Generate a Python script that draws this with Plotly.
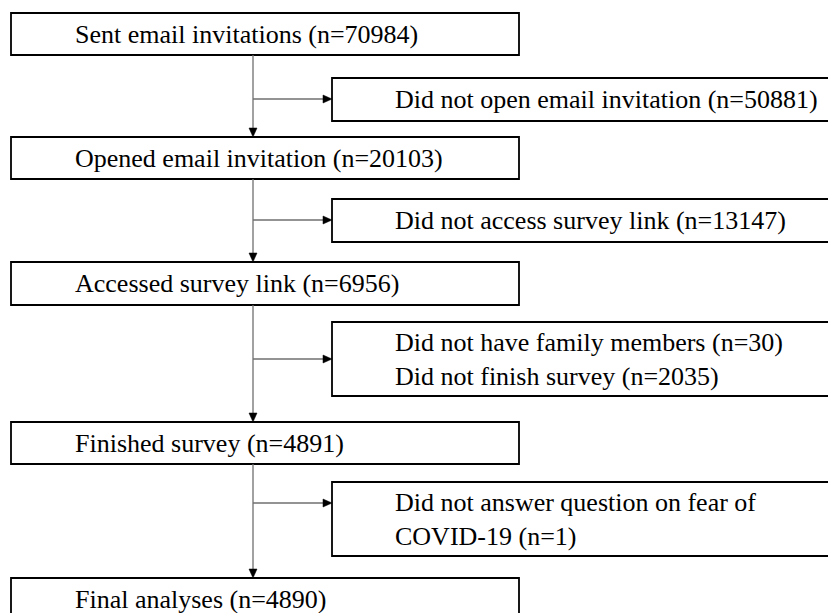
import textwrap
import plotly.graph_objects as go

# ---- data ----
main_labels = ["Sent email invitations", "Opened email invitation",
               "Accessed survey link", "Finished survey", "Final analyses"]
main_n = [70984, 20103, 6956, 4891, 4890]

excl_reasons = ["Did not open email invitation", "Did not access survey link",
                "Did not have family members", "Did not finish survey",
                "Did not answer question on fear of COVID-19"]
excl_n = [50881, 13147, 30, 2035, 1]
excl_step = [0, 1, 2, 2, 3]  # which step each exclusion belongs to

# ---- layout constants (pixels) ----
W, H = 828, 613
main_x0, main_x1 = 11, 519
main_top = [13, 137, 262, 422, 578]
main_bot = [55, 179, 305, 464, 620]
side_x0, side_x1 = 332, 845
side_top = [78, 199, 322, 482]
side_bot = [121, 242, 396, 556]
branch_y = [99, 220, 359, 503]
trunk_x = 253
main_text_x = 73
side_text_x = 393
FONT = dict(family="Liberation Serif, Times New Roman, serif", size=26, color="black")
BOX_LINE = dict(color="black", width=1.8)
CONN_LINE = dict(color="#6f6f6f", width=1.3)
AH_LEN, AH_HALF = 9, 4

fig = go.Figure()
shapes = []
annotations = []

# main boxes
for i, (lab, n) in enumerate(zip(main_labels, main_n)):
    shapes.append(dict(type="rect", xref="x", yref="y", x0=main_x0, x1=main_x1,
                       y0=main_top[i], y1=main_bot[i], line=BOX_LINE,
                       fillcolor="white", layer="above"))
    annotations.append(dict(x=main_text_x, y=(main_top[i] + main_bot[i]) / 2,
                            xref="x", yref="y", xanchor="left", yanchor="middle",
                            text=f"{lab} (n={n})", showarrow=False, font=FONT,
                            align="left"))

# exclusion boxes
for s in range(len(side_top)):
    lines = []
    for r, n, st in zip(excl_reasons, excl_n, excl_step):
        if st == s:
            lines.extend(textwrap.wrap(f"{r} (n={n})", width=39))
    shapes.append(dict(type="rect", xref="x", yref="y", x0=side_x0, x1=side_x1,
                       y0=side_top[s], y1=side_bot[s], line=BOX_LINE,
                       fillcolor="white", layer="above"))
    annotations.append(dict(x=side_text_x, y=(side_top[s] + side_bot[s]) / 2,
                            xref="x", yref="y", xanchor="left", yanchor="middle",
                            text="<br>".join(lines), showarrow=False, font=FONT,
                            align="left"))

# connectors
for i in range(len(main_labels) - 1):
    y_start, y_end = main_bot[i], main_top[i + 1]
    shapes.append(dict(type="line", xref="x", yref="y", x0=trunk_x, x1=trunk_x,
                       y0=y_start, y1=y_end - AH_LEN + 1, line=CONN_LINE))
    shapes.append(dict(type="path", xref="x", yref="y",
                       path=f"M {trunk_x - AH_HALF},{y_end - AH_LEN} L {trunk_x + AH_HALF},{y_end - AH_LEN} L {trunk_x},{y_end} Z",
                       fillcolor="black", line=dict(color="black", width=0.5)))
    by = branch_y[i]
    shapes.append(dict(type="line", xref="x", yref="y", x0=trunk_x, x1=side_x0 - AH_LEN + 1,
                       y0=by, y1=by, line=CONN_LINE))
    shapes.append(dict(type="path", xref="x", yref="y",
                       path=f"M {side_x0 - AH_LEN},{by - AH_HALF} L {side_x0 - AH_LEN},{by + AH_HALF} L {side_x0},{by} Z",
                       fillcolor="black", line=dict(color="black", width=0.5)))

fig.update_layout(
    width=W, height=H,
    margin=dict(l=0, r=0, t=0, b=0),
    paper_bgcolor="white", plot_bgcolor="white",
    xaxis=dict(range=[0, W], visible=False, fixedrange=True),
    yaxis=dict(range=[H, 0], visible=False, fixedrange=True),
    shapes=shapes, annotations=annotations,
    showlegend=False,
)

fig.write_html("out.html", config={"displayModeBar": False},
               post_script="document.body.style.margin='0';document.body.style.overflow='hidden';")
